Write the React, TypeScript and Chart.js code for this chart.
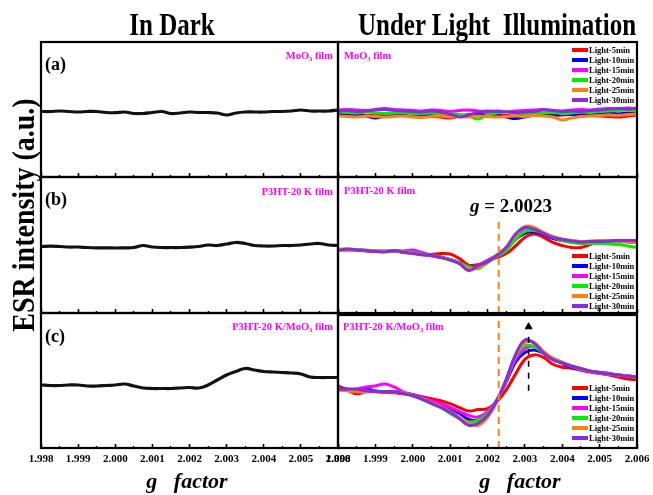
import React, { useEffect, useRef } from 'react';
import { Chart, registerables } from 'chart.js';
Chart.register(...registerables);

const FONT = "'Liberation Serif', 'Times New Roman', Times, serif";

// g-factor sample positions
const G = [1.998, 1.99825, 1.9985, 1.99875, 1.999, 1.99925, 1.9995, 1.99975, 2.0, 2.00025, 2.0005, 2.00075, 2.001, 2.00125, 2.0015, 2.00175, 2.002, 2.00225, 2.0025, 2.00275, 2.003, 2.00325, 2.0035, 2.00375, 2.004, 2.00425, 2.0045, 2.00475, 2.005, 2.00525, 2.0055, 2.00575, 2.006];

const X_MAJOR = [1.998, 1.999, 2.0, 2.001, 2.002, 2.003, 2.004, 2.005, 2.006];
const X_LABELS = ['1.998', '1.999', '2.000', '2.001', '2.002', '2.003', '2.004', '2.005', '2.006'];
const X_MINOR = [1.9985, 1.9995, 2.0005, 2.0015, 2.0025, 2.0035, 2.0045, 2.0055];

// In dark
const DARK_A = [0.5, 0.5, 1, 0.5, 0, 0.5, 0.5, -0.5, -0.7, 0, -1.5, -1.5, -0.5, 0.5, -1.5, -1, 0, -0.5, -0.5, -1, -3, -1, 0, 0, 0, 0.5, 0.5, 1, 2, 1, 1, 1, 2];
const DARK_B = [1, 1.3, 1, 0.5, 0.5, 0, -0.3, -0.3, -0.5, -0.3, 0, 2, 0.5, 0, 0, 0, 0.3, 1, 2.5, 2, 3.5, 5, 4, 2, 1.5, 1.5, 2, 2, 2.5, 3.5, 4, 2.5, 2];
const DARK_C = [-2, -2.5, -2.5, -2, -2, -3, -3, -2.5, -2, -1, -3, -5, -5.5, -5.5, -5.5, -5, -4.5, -5, -2, 3, 8, 11.5, 14.5, 13, 11.5, 11, 10.5, 10, 9, 6, 5.5, 5.5, 5.5];

// Under light (a) MoO3 film
const LA5 = [-2.5, -3, -2.5, -3.5, -3, -2.5, -3.5, -3, -4, -3.5, -4.5, -5, -6, -4, -3, -3.5, -4, -3, -3.5, -4, -3, -2.5, -3, -3.5, -3, -2.5, -3, -3.5, -4, -4.5, -5, -4, -3];
const LA10 = [-1.5, -2, -3, -4, -6, -4, -3, -2.5, -3, -2, -3, -2.5, -3, -3.5, -3, -2.5, -3, -3.5, -5, -6.5, -5, -3, -2.5, -3, -2, -2.5, -3, -2, -1.5, -1, -2, -1, -2];
const LA15 = [2, 2.5, 2, 1.5, 2.5, 3.5, 2.5, 2, 1.5, 1, 2, 1.5, 0.5, 1.5, 2, 1, 0, 1, 0.5, 1, 1.5, 2, 2.5, 1.5, 1, 2, 2.5, 2, 3, 3.5, 3, 4, 3];
const LA20 = [0, -0.5, -1, 0, -1, -1.5, -1, -0.5, -2, -1.5, -1, -2, -1.5, -2.5, -4, -7, -3, -1, 0.5, -1, -1.5, -2, -1, -0.5, -1.5, -1, 0, -0.5, 0.5, 1, 1.5, 2, 1];
const LA25 = [-4, -4.5, -5, -4, -4.5, -5, -4.5, -4, -5, -5.5, -4.5, -4, -5, -4.5, -5, -4, -4.5, -5, -4.5, -4, -4.5, -3.5, -4, -5, -8, -6, -4.5, -4, -3.5, -3, -3.5, -2.5, -2];
const LA30 = [1, 1.5, 0.5, 1, 2, 2.5, 1.5, 1, 0.5, 0, 1, 0, -2, -5, -3, 0, 1, 0.5, 0, -0.5, 0, 0.5, 2, 1.5, 0.5, 1, 0.5, 1.5, 2, 3, 3.5, 3, 4];

// Under light (b) P3HT-20 K film
const LB5 = [-2, -2.5, -2, -3.5, -4, -4, -3.5, -5, -5.5, -6.5, -7, -6, -6.5, -11, -17.5, -17, -13, -10, -6, 1.5, 10, 13.5, 10, 5, 2, 0, 0, 3, 5.5, 6, 6.5, 5.5, 5];
const LB10 = [-2, -2, -2.5, -3, -3.5, -4, -3.5, -4.5, -5.5, -7, -8, -9.5, -12, -15, -19, -19, -13, -8, -2, 8, 14, 15.5, 13, 9, 7, 5.5, 4.5, 4.5, 5, 5, 5.5, 6, 6];
const LB15 = [-2.5, -2, -2.5, -3, -3.5, -3.5, -3, -3.5, -2.5, -5, -7.5, -9.5, -12, -15.5, -21, -18, -13, -7.5, 0, 11, 19.5, 19, 14.5, 10.5, 8, 6.5, 6, 6, 6.5, 6.5, 6.5, 7, 7];
const LB20 = [-2, -1.5, -2, -2.5, -3.5, -3.5, -3, -4, -5, -6.5, -8, -9.5, -12, -15, -19, -21, -15, -9, -3, 8, 16, 17, 14, 10, 7, 5, 4, 4, 4, 3.5, 3, 1.5, 0];
const LB25 = [-1.5, -2, -2.5, -3, -3.5, -4, -3.5, -4.5, -6, -7.5, -8.5, -10, -12.5, -16, -21, -20, -14, -8, 0, 12, 21, 20, 15, 11, 8.5, 7, 6, 6.5, 7, 6.5, 6, 6, 5];
const LB30 = [-3, -1.5, -2.5, -3, -4, -4.5, -3, -4.5, -6, -7, -8, -10, -12.5, -16, -23, -18, -14, -8, 0, 13.5, 20, 18, 14, 10, 8, 6.5, 5.5, 6, 6, 6.5, 7, 7, 7];

// Under light (c) P3HT-20 K/MoO3 film
const LC5 = [-2, -6, -10, -8, -8, -8.5, -9, -10, -11, -13, -15, -17, -20, -24, -27.5, -26, -25, -18, -6, 10, 25, 29.5, 27, 20, 17, 16, 14, 12, 10.5, 9, 7, 5, 4.5];
const LC10 = [-5, -5, -6, -5, -7, -8, -8, -9, -11, -14, -18, -21, -25, -30, -36, -37, -30, -17, 2, 22, 32, 34.5, 31, 25, 21, 17, 14.5, 13, 11, 10, 9, 8, 7.5];
const LC15 = [-6, -6, -5, -3, -2, 0, -3, -8, -11, -14, -17, -20, -24, -28, -32, -33.5, -28, -16, 3, 25, 36, 38, 32, 26, 22, 18, 15, 13, 12, 11, 9, 8, 7];
const LC20 = [-5, -5.5, -6, -7, -7.5, -8, -8, -9, -12, -16, -20, -24, -30, -35, -38.5, -37, -30, -17, 4, 28, 39, 38, 31, 26, 22, 18.5, 15.5, 13, 11, 10, 9, 8, 7];
const LC25 = [-6, -7, -8, -8, -7.5, -8, -8, -9.5, -12, -15, -19, -23, -28, -34, -40, -42, -34, -18, 4, 29, 42, 42, 33, 26, 22, 18, 15, 13, 11, 10, 9, 8, 6.5];
const LC30 = [-5.3, -5.3, -5.3, -7, -7.7, -7.7, -7.7, -9.7, -12, -15.3, -19.7, -23.7, -28.7, -35.3, -42, -40, -32, -17, 4.7, 29.7, 44.7, 41.3, 31.3, 24.7, 21.3, 18, 15.7, 13, 11.3, 10.3, 9, 8, 7];

const SERIES_LABELS = ['Light-5min', 'Light-10min', 'Light-15min', 'Light-20min', 'Light-25min', 'Light-30min'];
const SERIES_COLORS = ['#FF0000', '#0000FF', '#FF00FF', '#00EE00', '#FF8010', '#8A2BE2'];

const G_MARK = 2.0023;
const G_MARK_SPAN_B = [-65, 30];
const G_MARK_SPAN_C = [-65, 70];
const ARROW_G = 2.0031;
const ARROW_SPAN = [-7, 54];
const ARROW_HEAD = 58;

const Y_MIN = -65;
const Y_MAX = 70;

const pts = (ys: number[]) => G.map((g, i) => ({ x: g, y: ys[i] }));

const darkSet = (ys: number[]) => ({
  data: pts(ys), borderColor: '#111', borderWidth: 3.2, pointRadius: 0, tension: 0.4, order: 1,
});

const lightSets = (arrs: number[][]) =>
  arrs.map((ys, i) => ({
    label: SERIES_LABELS[i], data: pts(ys), borderColor: SERIES_COLORS[i], borderWidth: 3,
    pointRadius: 0, tension: 0.4, order: 10 - i,
  }));

const vline = (gx: number, span: number[], color: string, width: number, dash: number[]) => ({
  data: [{ x: gx, y: span[0] }, { x: gx, y: span[1] }], borderColor: color, borderWidth: width,
  borderDash: dash, pointRadius: 0, tension: 0, order: -1,
});

const framePlugin = {
  id: 'frame',
  afterDraw(chart: any) {
    const { ctx, chartArea: a } = chart;
    ctx.save();
    ctx.strokeStyle = '#000';
    ctx.lineWidth = 2.2;
    ctx.strokeRect(a.left, a.top, a.right - a.left, a.bottom - a.top);
    ctx.restore();
  },
};

const MX = 24, MT = 3, MB = 3;

function Panel({ x, y, w, h, datasets, labels }: any) {
  const ref = useRef<HTMLCanvasElement>(null);
  const axisH = labels ? 30 : 0;
  const cw = w + 2 * MX;
  const ch = h + MT + MB + axisH;
  useEffect(() => {
    const chart = new Chart(ref.current as HTMLCanvasElement, {
      type: 'line',
      data: { datasets },
      options: {
        responsive: false,
        animation: false,
        devicePixelRatio: 1,
        events: [],
        layout: { padding: { left: MX, right: MX, top: MT, bottom: MB } },
        plugins: { legend: { display: false }, tooltip: { enabled: false } },
        scales: {
          x: {
            type: 'linear', position: 'bottom', min: 1.998, max: 2.006, weight: 1,
            afterBuildTicks: (s: any) => { s.ticks = X_MAJOR.map((v) => ({ value: v })); },
            afterFit: (s: any) => { s.height = axisH; },
            grid: { drawOnChartArea: false, drawTicks: true, tickLength: -4, tickWidth: 1.6, tickColor: '#000' },
            border: { display: false },
            ticks: {
              display: !!labels, autoSkip: false, maxRotation: 0, minRotation: 0, padding: 9, color: '#000',
              font: { family: FONT, weight: 'bold', size: 11 },
              callback: (_v: any, i: number) => X_LABELS[i],
            },
          },
          xm: {
            type: 'linear', axis: 'x', position: 'bottom', min: 1.998, max: 2.006, weight: 0,
            afterBuildTicks: (s: any) => { s.ticks = X_MINOR.map((v) => ({ value: v })); },
            afterFit: (s: any) => { s.height = 0; },
            grid: { drawOnChartArea: false, drawTicks: true, tickLength: -2, tickWidth: 1.4, tickColor: '#000' },
            border: { display: false },
            ticks: { display: false },
          },
          y: { type: 'linear', min: Y_MIN, max: Y_MAX, display: false },
        },
      } as any,
      plugins: [framePlugin],
    });
    return () => chart.destroy();
  }, []);
  return (
    <canvas
      ref={ref}
      width={cw}
      height={ch}
      style={{ position: 'absolute', left: x - MX, top: y - MT, width: cw, height: ch }}
    />
  );
}

function Txt({ x, y, size, align = 'left', color = '#000', sy = 1, rot = 0, weight = 'bold', style = {}, children }: any) {
  const tx = align === 'center' ? '-50%' : align === 'right' ? '-100%' : '0';
  return (
    <div
      style={{
        position: 'absolute', left: x, top: y, fontFamily: FONT, fontWeight: weight, fontSize: size,
        lineHeight: 1, whiteSpace: 'pre', color,
        transform: `translate(${tx}, -50%)${rot ? ` rotate(${rot}deg)` : ''} scaleY(${sy})`,
        ...style,
      }}
    >
      {children}
    </div>
  );
}

function Legend({ x, y }: any) {
  return (
    <div style={{ position: 'absolute', left: x, top: y - 5, fontFamily: FONT, fontWeight: 'bold', fontSize: 8.5, lineHeight: '10px' }}>
      {SERIES_LABELS.map((l, i) => (
        <div key={l} style={{ display: 'flex', alignItems: 'center', height: 10, whiteSpace: 'nowrap' }}>
          <span style={{ display: 'inline-block', width: 16, height: 4, background: SERIES_COLORS[i], marginRight: 1 }} />
          {l}
        </div>
      ))}
    </div>
  );
}

const Sub3 = () => <span style={{ fontSize: '0.62em', position: 'relative', top: '0.3em' }}>3</span>;

export default function App() {
  const LX = 41, LW = 297, RX = 338, RW = 299;
  const rows = [{ y: 42, h: 135 }, { y: 177, h: 136 }, { y: 313, h: 135 }];
  const dark = [[darkSet(DARK_A)], [darkSet(DARK_B)], [darkSet(DARK_C)]];
  const light = [
    lightSets([LA5, LA10, LA15, LA20, LA25, LA30]),
    [...lightSets([LB5, LB10, LB15, LB20, LB25, LB30]), vline(G_MARK, G_MARK_SPAN_B, '#FF8010', 2, [7, 5])],
    [
      ...lightSets([LC5, LC10, LC15, LC20, LC25, LC30]),
      vline(G_MARK, G_MARK_SPAN_C, '#FF8010', 2, [7, 5]),
      vline(ARROW_G, ARROW_SPAN, '#000', 1.6, [6, 6]),
      {
        data: [{ x: ARROW_G, y: ARROW_HEAD }], showLine: false, pointStyle: 'triangle', pointRadius: 4,
        backgroundColor: '#000', borderColor: '#000', borderWidth: 1, order: -2,
      },
    ],
  ];
  const magenta = '#FF00FF';
  return (
    <div style={{ position: 'absolute', left: 0, top: 0, width: 653, height: 495, background: '#fff', overflow: 'hidden', fontFamily: FONT }}>
      {rows.map((r, i) => (
        <Panel key={'d' + i} x={LX} y={r.y} w={LW} h={r.h} datasets={dark[i]} labels={i === 2} />
      ))}
      {rows.map((r, i) => (
        <Panel key={'l' + i} x={RX} y={r.y} w={RW} h={r.h} datasets={light[i]} labels={i === 2} />
      ))}

      <Txt x={172} y={24} size={25} align="center" sy={1.3}>In Dark</Txt>
      <Txt x={497} y={24} size={25} align="center" sy={1.3}>{'Under Light  Illumination'}</Txt>

      <Txt x={24} y={215} size={28} align="center" rot={-90} sy={1.12}>ESR intensity (a.u.)</Txt>

      <Txt x={45} y={64} size={18}>(a)</Txt>
      <Txt x={45} y={199} size={18}>(b)</Txt>
      <Txt x={45} y={336} size={18}>(c)</Txt>

      <Txt x={333} y={56} size={10.5} align="right" color={magenta}>MoO<Sub3 /> film</Txt>
      <Txt x={333} y={192} size={10.5} align="right" color={magenta}>P3HT-20 K film</Txt>
      <Txt x={333} y={327} size={10.5} align="right" color={magenta}>P3HT-20 K/MoO<Sub3 /> film</Txt>

      <Txt x={344} y={56} size={10.5} color={magenta}>MoO<Sub3 /> film</Txt>
      <Txt x={344} y={191} size={10.5} color={magenta}>P3HT-20 K film</Txt>
      <Txt x={343} y={327} size={10.5} color={magenta}>P3HT-20 K/MoO<Sub3 /> film</Txt>

      <Txt x={470} y={205} size={19}><i>g</i>{' = 2.0023'}</Txt>

      <Legend x={572} y={50} />
      <Legend x={572} y={256} />
      <Legend x={572} y={388} />

      <Txt x={187} y={481} size={22} align="center" style={{ fontStyle: 'italic' }}>{'g   factor'}</Txt>
      <Txt x={520} y={481} size={22} align="center" style={{ fontStyle: 'italic' }}>{'g   factor'}</Txt>
    </div>
  );
}
